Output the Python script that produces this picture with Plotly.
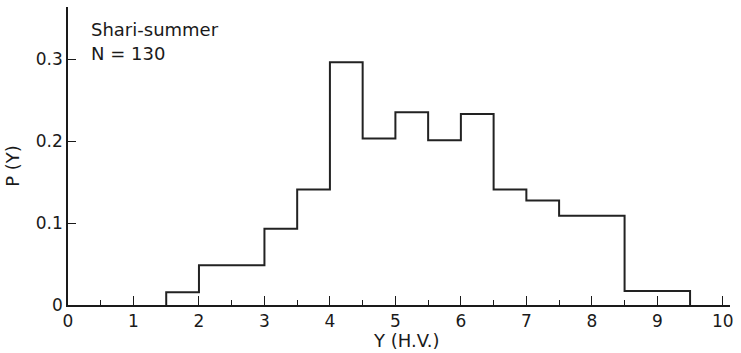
import plotly.graph_objects as go

# Histogram bins (left edges) and probabilities
bin_left = [1.5, 2.0, 3.0, 3.5, 4.0, 4.5, 5.0, 5.5, 6.0, 6.5, 7.0, 7.5, 8.5]
bin_right_last = 9.5
p_values = [0.0155, 0.0485, 0.093, 0.141, 0.296, 0.203, 0.235, 0.201, 0.233, 0.141, 0.1275, 0.109, 0.017]

x_ticks = list(range(0, 11))
y_tickvals = [0, 0.1, 0.2, 0.3]
y_ticktext = ["0", "0.1", "0.2", "0.3"]

xs = [bin_left[0]] + bin_left + [bin_right_last]
ys = [0] + p_values + [0]

FONT = "DejaVu Sans"
INK = "#1a1a1a"

fig = go.Figure()
fig.add_trace(go.Scatter(x=xs, y=ys, mode="lines", line_shape="hv",
                         line=dict(color="#222222", width=2), showlegend=False,
                         hoverinfo="skip"))

fig.update_layout(
    width=741, height=353,
    margin=dict(l=68, r=11, t=7, b=48),
    paper_bgcolor="white", plot_bgcolor="white",
    font=dict(family=FONT, size=17, color=INK),
    xaxis=dict(range=[0, 10.11], tickvals=x_ticks, ticks="inside", ticklen=9,
               tickwidth=1.3, tickcolor=INK, showline=True, linecolor=INK,
               linewidth=1.5, showgrid=False, zeroline=False,
               minor=dict(ticks="inside", ticklen=5, dtick=0.5, tick0=0,
                          tickcolor=INK, tickwidth=1.3, showgrid=False),
               tickfont=dict(family=FONT, size=17, color=INK)),
    yaxis=dict(range=[0, 0.3635], tickvals=y_tickvals, ticktext=y_ticktext,
               ticks="inside", ticklen=8, tickwidth=1.3, tickcolor=INK,
               showline=True, linecolor=INK, linewidth=1.5, showgrid=False,
               zeroline=False, tickfont=dict(family=FONT, size=17, color=INK)),
)

fig.add_annotation(text="Shari-summer", xref="paper", yref="paper",
                   x=0.032, y=0.9245, xanchor="left", yanchor="middle",
                   showarrow=False, font=dict(family=FONT, size=18, color=INK))
fig.add_annotation(text="N = 130", xref="paper", yref="paper",
                   x=0.032, y=0.8456, xanchor="left", yanchor="middle",
                   showarrow=False, font=dict(family=FONT, size=18, color=INK))
fig.add_annotation(text="Y (H.V.)", xref="paper", yref="paper",
                   x=0.51, y=-0.12, xanchor="center", yanchor="middle",
                   showarrow=False, font=dict(family=FONT, size=18, color=INK))
fig.add_annotation(text="P (Y)", xref="paper", yref="paper",
                   x=-0.085, y=0.466, xanchor="center", yanchor="middle",
                   textangle=-90, showarrow=False,
                   font=dict(family=FONT, size=18, color=INK))

fig.write_html("out.html")
